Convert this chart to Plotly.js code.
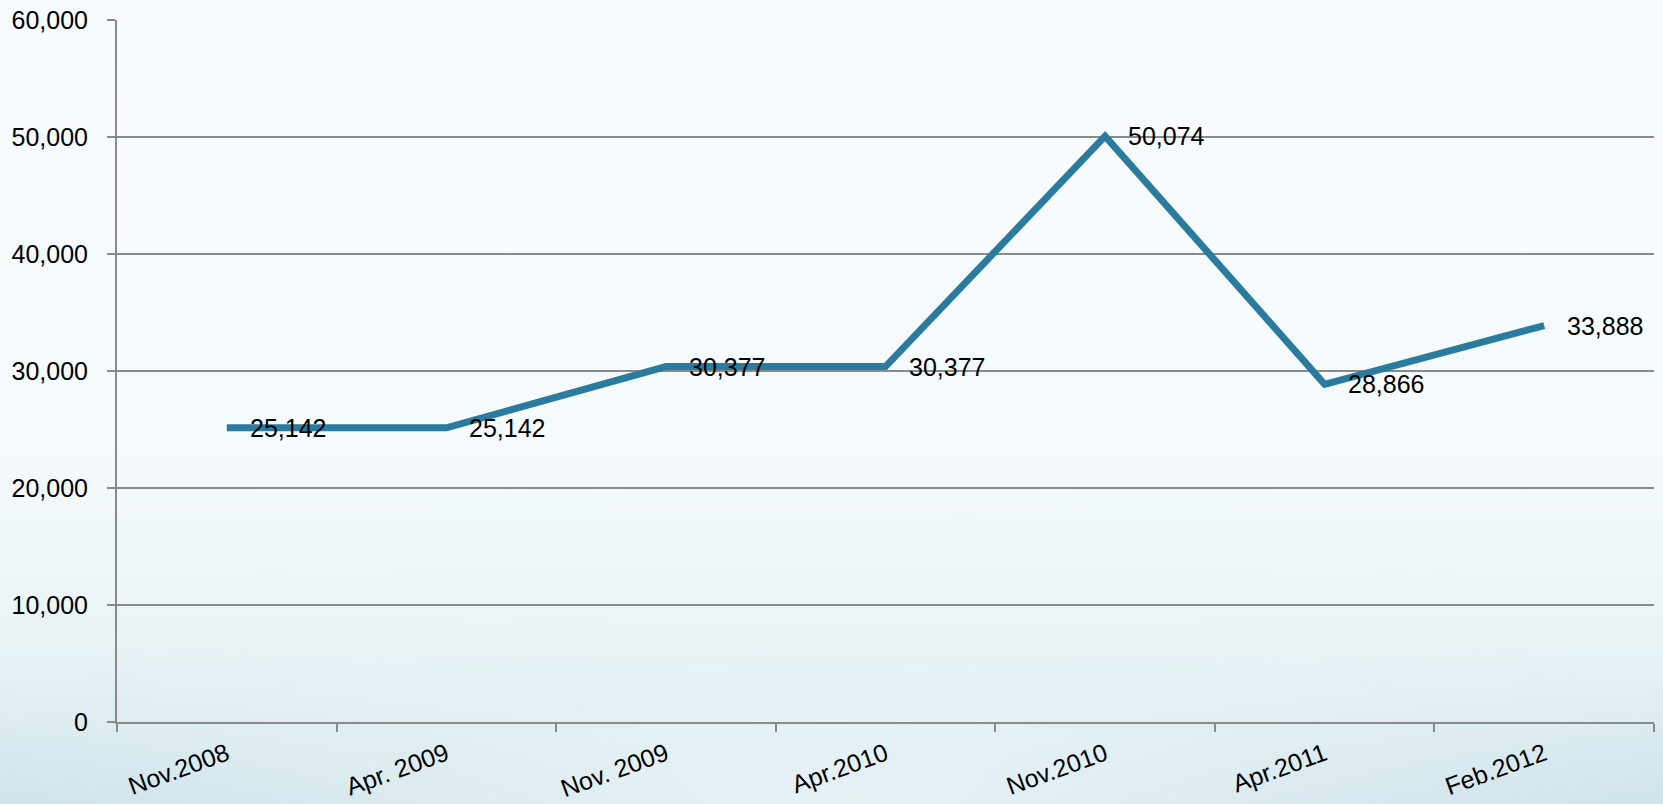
<!DOCTYPE html>
<html>
<head>
<meta charset="utf-8">
<script src="https://cdn.plot.ly/plotly-3.0.1.min.js"></script>
<style>
  html, body { margin: 0; padding: 0; }
  body {
    width: 1663px; height: 804px; overflow: hidden;
    background:
      radial-gradient(ellipse 70% 40% at 50% 100%, rgba(235,244,247,0.9) 0%, rgba(235,244,247,0) 100%),
      linear-gradient(to bottom, #f7fbfd 0%, #f5fafc 55%, #e9f3f6 80%, #d3e7ed 92%, #c3dde5 100%);
  }
  #chart { width: 1663px; height: 804px; }
</style>
</head>
<body>
<div id="chart"></div>
<script>
const categories = ["Nov.2008", "Apr. 2009", "Nov. 2009", "Apr.2010", "Nov.2010", "Apr.2011", "Feb.2012"];
const values = [25142, 25142, 30377, 30377, 50074, 28866, 33888];
const valueLabels = ["25,142", "25,142", "30,377", "30,377", "50,074", "28,866", "33,888"];
const yTickValues = [0, 10000, 20000, 30000, 40000, 50000, 60000];

const gridColor = "#8a8a8a";
const fontFamily = "Arial, 'Liberation Sans', sans-serif";
const fontSize = 25;

const trace = {
  type: "scatter",
  mode: "lines",
  x: categories,
  y: values,
  line: { color: "#2b7b9f", width: 7 },
  hoverinfo: "skip",
  showlegend: false
};

const annotations = categories.map((c, i) => ({
  x: c,
  y: values[i],
  xref: "x",
  yref: "y",
  text: valueLabels[i],
  showarrow: false,
  xanchor: "left",
  yanchor: "middle",
  xshift: 21,
  font: { family: fontFamily, size: fontSize, color: "#000000" }
}));

const layout = {
  width: 1663,
  height: 804,
  paper_bgcolor: "rgba(0,0,0,0)",
  plot_bgcolor: "rgba(0,0,0,0)",
  margin: { l: 117, r: 9, t: 20, b: 82 },
  font: { family: fontFamily, size: fontSize, color: "#000000" },
  xaxis: {
    type: "category",
    range: [-0.5, categories.length - 0.5],
    tickson: "boundaries",
    ticks: "outside",
    ticklen: 8,
    tickwidth: 2,
    tickcolor: gridColor,
    showline: true,
    linecolor: gridColor,
    linewidth: 2,
    showgrid: false,
    zeroline: false,
    tickangle: -20,
    ticklabelstandoff: 6,
    tickfont: { family: fontFamily, size: fontSize, color: "#000000" },
    fixedrange: true
  },
  yaxis: {
    range: [0, 60000],
    tickvals: yTickValues,
    tickformat: ",",
    ticks: "outside",
    ticklen: 8,
    tickwidth: 2,
    tickcolor: gridColor,
    showline: true,
    linecolor: gridColor,
    linewidth: 2,
    showgrid: true,
    gridcolor: gridColor,
    gridwidth: 2,
    zeroline: false,
    ticklabelstandoff: 14,
    tickfont: { family: fontFamily, size: fontSize, color: "#000000" },
    fixedrange: true
  },
  annotations: annotations
};

Plotly.newPlot("chart", [trace], layout, { displayModeBar: false, staticPlot: true });
</script>
</body>
</html>
